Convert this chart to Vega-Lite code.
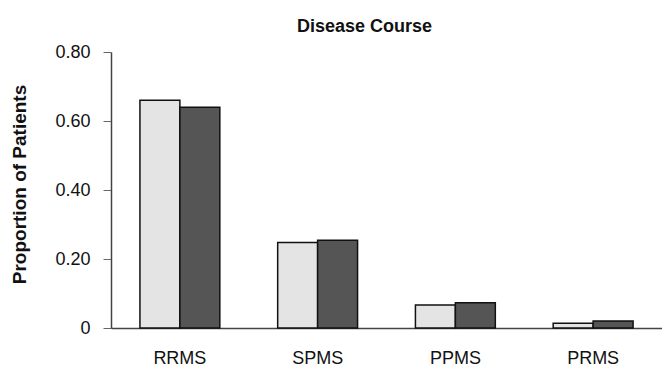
{
  "$schema": "https://vega.github.io/schema/vega-lite/v6.json",
  "width": 551,
  "height": 276,
  "autosize": "none",
  "padding": {"left": 111, "top": 52, "right": 0, "bottom": 43},
  "background": "white",
  "title": {"text": "Disease Course", "font": "Liberation Sans", "fontSize": 18, "fontWeight": "bold", "color": "#111", "anchor": "middle", "dx": -22, "offset": 7},
  "config": {"view": {"stroke": null}, "axis": {"grid": false, "labelFont": "Liberation Sans", "titleFont": "Liberation Sans"}},
  "data": {"values": [
    {"course": "RRMS", "group": "Group 1", "proportion": 0.66},
    {"course": "RRMS", "group": "Group 2", "proportion": 0.64},
    {"course": "SPMS", "group": "Group 1", "proportion": 0.248},
    {"course": "SPMS", "group": "Group 2", "proportion": 0.254},
    {"course": "PPMS", "group": "Group 1", "proportion": 0.067},
    {"course": "PPMS", "group": "Group 2", "proportion": 0.073},
    {"course": "PRMS", "group": "Group 1", "proportion": 0.014},
    {"course": "PRMS", "group": "Group 2", "proportion": 0.02}
  ]},
  "mark": {"type": "bar", "stroke": "#111", "strokeWidth": 1.5},
  "encoding": {
    "x": {"field": "course", "type": "nominal", "sort": ["RRMS", "SPMS", "PPMS", "PRMS"],
      "scale": {"paddingInner": 0.42, "paddingOuter": 0.21},
      "axis": {"title": null, "labelAngle": 0, "labelFontSize": 18, "labelColor": "#111", "labelPadding": 21, "ticks": false, "domainColor": "#444", "domainWidth": 1.5}},
    "xOffset": {"field": "group", "type": "nominal", "scale": {"paddingInner": 0, "paddingOuter": 0}},
    "y": {"field": "proportion", "type": "quantitative",
      "scale": {"domain": [0, 0.8]},
      "axis": {"title": "Proportion of Patients", "titleFontSize": 19, "titleFontWeight": "bold", "titleColor": "#111", "titleX": -82, "titleY": 132, "values": [0, 0.2, 0.4, 0.6, 0.8],
        "labelExpr": "datum.value == 0 ? '0' : format(datum.value, '.2f')", "labelFontSize": 18, "labelColor": "#111", "labelPadding": 13, "tickSize": 8, "tickColor": "#666", "domainColor": "#444", "domainWidth": 1.5}},
    "color": {"field": "group", "type": "nominal", "scale": {"range": ["#e4e4e4", "#555555"]}, "legend": null}
  }
}
